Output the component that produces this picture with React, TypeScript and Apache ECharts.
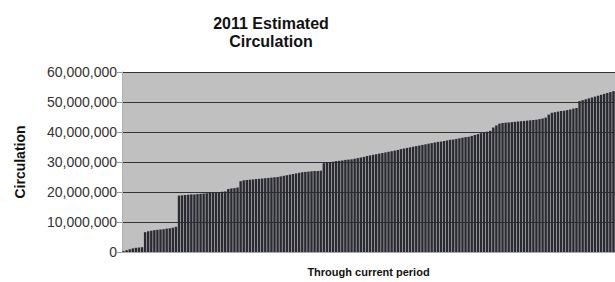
import React, { useEffect, useRef } from "react";
import * as echarts from "echarts";

const titleLines = ["2011 Estimated", "Circulation"];
const yAxisTitle = "Circulation";
const xAxisTitle = "Through current period";
const yTicks = [0, 10000000, 20000000, 30000000, 40000000, 50000000, 60000000];

// circulation per period, in millions
const circulationM = [
  0.3, 0.6, 0.9, 1.2, 1.4, 1.5, 1.6,
  6.6, 6.9, 7.1, 7.3, 7.4, 7.5, 7.6, 7.8, 7.9, 8.1, 8.4,
  18.8, 18.9, 19.0, 19.1, 19.2, 19.2, 19.3, 19.4, 19.5, 19.6, 19.7, 19.8, 19.9, 20.0, 20.1, 20.2,
  21.0, 21.2, 21.3, 21.5,
  23.6, 23.9, 24.0, 24.1, 24.2, 24.3, 24.4, 24.5,
  24.6, 24.7, 24.8, 24.9, 25.0, 25.2, 25.4, 25.6, 25.8, 26.0, 26.2, 26.4, 26.6,
  26.7, 26.8, 26.9, 27.0, 27.0, 27.1,
  29.6, 29.8, 30.0, 30.1, 30.3, 30.4, 30.5, 30.7, 30.8, 30.9, 31.1, 31.3, 31.5, 31.7, 32.0,
  32.2, 32.4, 32.6, 32.8, 33.0, 33.2, 33.4, 33.6, 33.8, 34.0, 34.3,
  34.5, 34.7, 34.9, 35.1, 35.3, 35.5, 35.7, 35.9, 36.1, 36.3, 36.5,
  36.7, 36.8, 37.0, 37.2, 37.4, 37.5, 37.7, 37.9, 38.1, 38.3, 38.4,
  38.7, 39.0, 39.3, 39.6, 39.9, 40.1, 40.4,
  41.5, 42.2, 42.8, 43.0,
  43.1, 43.2, 43.3, 43.4, 43.5, 43.6, 43.7, 43.8, 43.9, 44.0, 44.1, 44.3, 44.5, 44.8,
  45.8, 46.4, 46.6, 46.8, 47.0, 47.1, 47.3, 47.5, 47.8, 48.0,
  50.3, 50.6, 50.9, 51.2, 51.5, 51.8, 52.1, 52.4, 52.7, 53.0, 53.3, 53.6,
];

const periods = circulationM.map((_, i) => String(i + 1));

export default function App() {
  const ref = useRef<HTMLDivElement>(null);
  useEffect(() => {
    document.body.style.margin = "0";
    if (!ref.current) return;
    const chart = echarts.init(ref.current, null, { renderer: "svg" });
    const font = "'Liberation Sans', Arial, sans-serif";
    chart.setOption({
      animation: false,
      textStyle: { fontFamily: font },
      graphic: [
        {
          type: "text",
          x: 271,
          y: 14,
          style: {
            text: titleLines.join("\n"),
            font: `bold 16px ${font}`,
            fill: "#111",
            textAlign: "center",
            lineHeight: 18,
          },
        },
      ],
      grid: {
        left: 122,
        right: 0,
        top: 72,
        bottom: 30,
        show: true,
        backgroundColor: "#c0c0c0",
        borderWidth: 0,
        containLabel: false,
        outerBoundsMode: "none",
      },
      xAxis: {
        type: "category",
        data: periods,
        name: xAxisTitle,
        nameLocation: "middle",
        nameGap: 14,
        nameTextStyle: { fontFamily: font, fontWeight: "bold", fontSize: 11, color: "#111" },
        axisLabel: { show: false },
        axisTick: { show: false },
        axisLine: { lineStyle: { color: "#aaa", width: 1 } },
        splitLine: { show: false },
      },
      yAxis: {
        type: "value",
        min: yTicks[0],
        max: yTicks[yTicks.length - 1],
        interval: yTicks[1] - yTicks[0],
        name: yAxisTitle,
        nameLocation: "middle",
        nameGap: 95,
        nameTextStyle: { fontFamily: font, fontWeight: "bold", fontSize: 14, color: "#111" },
        axisLine: { show: true, lineStyle: { color: "#b0b0b0" } },
        axisTick: { show: true, length: 5, lineStyle: { color: "#999" } },
        axisLabel: {
          fontFamily: font,
          fontSize: 14,
          color: "#333",
          margin: 5,
          formatter: (v: number) => v.toLocaleString("en-US"),
        },
        splitLine: { show: true, lineStyle: { color: "#333", width: 1 } },
      },
      series: [
        {
          type: "bar",
          data: circulationM.map((v) => v * 1000000),
          barCategoryGap: "22%",
          itemStyle: { color: "#2a2a33" },
        },
      ],
    });
    return () => chart.dispose();
  }, []);
  return <div ref={ref} style={{ width: 615, height: 282 }} />;
}
